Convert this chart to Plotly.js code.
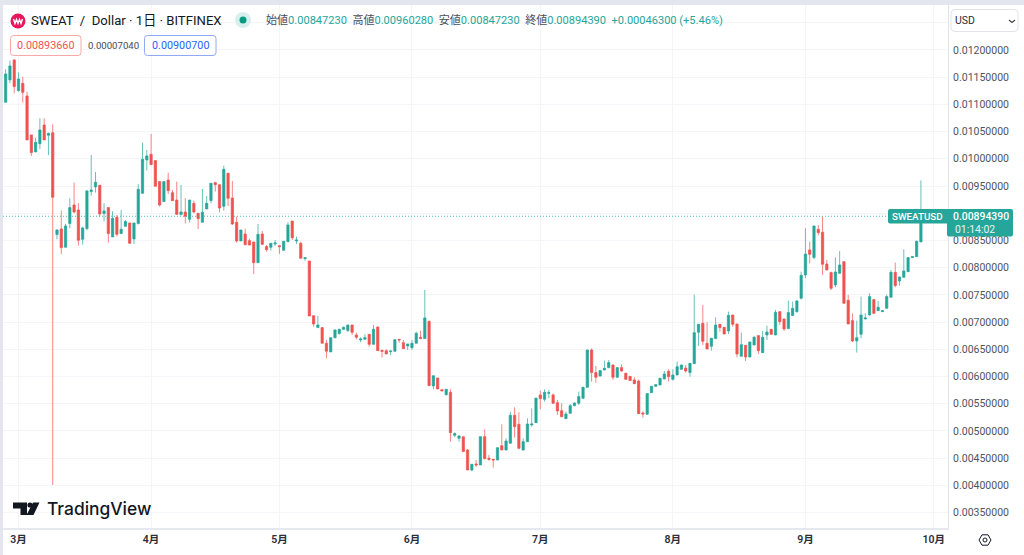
<!DOCTYPE html>
<html><head><meta charset="utf-8">
<script src="https://cdn.plot.ly/plotly-3.0.1.min.js"></script>
<style>html,body{margin:0;padding:0;background:#fff;overflow:hidden}#c{width:1024px;height:555px}</style>
</head><body><div id="c"></div>
<script>
const symbol = "SWEAT  /  Dollar · 1日 · BITFINEX";
const firstDay = [2023, 1, 26];
const opens = [
.011039,.011450,.011817,.011253,.011388,.011155,.010439,.010126,.010279,.010622,
.010432,.010481,.008607,.008711,.008374,.008809,.009152,.009060,.008521,.008717,
.009397,.009483,.009513,.008993,.009103,.008564,.008925,.008625,.008760,.008821,
.008527,.008809,.009366,.009979,.010083,.009967,.009581,.009213,.009611,.009378,
.009243,.008974,.009023,.008888,.009182,.008998,.008833,.009078,.009231,.009562,
.009525,.009127,.009733,.009280,.008833,.008490,.008618,.008496,.008471,.008091,
.008618,.008386,.008373,.008435,.008404,.008318,.008477,.008857,.008490,.008447,
.008165,.008122,.007117,.006897,.006897,.006609,.006450,.006713,.006787,.006866,
.006842,.006946,.006762,.006670,.006682,.006774,.006590,.006909,.006480,.006474,
.006456,.006462,.006682,.006621,.006560,.006529,.006609,.006720,.006695,.007013,
.005825,.005972,.005757,.005665,.005708,.004918,.004863,.004893,.004648,.004280,
.004391,.004373,.004893,.004495,.004477,.004464,.004728,.004648,.004771,.005286,
.005120,.004648,.004801,.005108,.005150,.005659,.005579,.005690,.005659,.005518,
.005371,.005224,.005322,.005463,.005506,.005598,.005800,.006486,.006070,.006008,
.006119,.006162,.006210,.005984,.006162,.006057,.006002,.005935,.005916,.005328,
.005304,.005702,.005819,.005843,.005953,.006094,.005947,.006027,.006131,.006155,
.006070,.006235,.006811,.006976,.006609,.006554,.006695,.006958,.006903,.006836,
.007130,.006964,.006370,.006572,.006358,.006578,.006750,.006437,.006762,.006866,
.006762,.007191,.007056,.006879,.007118,.007191,.007436,.007865,.008325,.008184,
.008704,.008649,.008067,.007908,.007681,.007896,.008110,.007400,.007026,.006652,
.006774,.007056,.007130,.007412,.007209,.007191,.007252,.007455,.007914,.007755,
.007822,.007926,.008184,.008202,.0084723];
const highs = [
.011646,.011805,.011830,.011590,.011510,.011235,.010439,.010390,.010745,.010745,
.010481,.010635,.008705,.009048,.008803,.009274,.009562,.009183,.008754,.009428,
.010071,.009758,.009519,.009183,.009115,.009036,.008968,.009060,.008876,.008821,
.008821,.009532,.010298,.010163,.010457,.009967,.009581,.009581,.009746,.009427,
.009580,.009519,.009274,.009243,.009231,.008998,.009446,.009317,.009550,.009580,
.009525,.009874,.009746,.009593,.008937,.008692,.008716,.008533,.008471,.008802,
.008673,.008416,.008447,.008508,.008404,.008484,.008833,.008857,.008570,.008477,
.008183,.008122,.007117,.007111,.006897,.006670,.006713,.006866,.006878,.006915,
.006946,.006946,.006805,.006719,.006774,.006774,.006946,.006915,.006485,.006499,
.006474,.006682,.006682,.006670,.006600,.006670,.006823,.006842,.007589,.007025,
.006014,.005972,.005757,.005763,.005763,.004973,.004918,.004893,.004667,.004385,
.004464,.004893,.005028,.004556,.004477,.004691,.005120,.004863,.005353,.005433,
.005341,.004863,.005230,.005414,.005616,.005739,.005763,.005751,.005690,.005567,
.005506,.005353,.005494,.005524,.005720,.005810,.006490,.006517,.006192,.006110,
.006290,.006303,.006220,.006170,.006223,.006070,.006005,.005984,.005941,.005359,
.005684,.005820,.005855,.005970,.006100,.006131,.006131,.006272,.006215,.006210,
.006245,.007503,.006960,.007313,.006995,.006705,.007087,.006960,.006905,.007191,
.007130,.006964,.006805,.006575,.006635,.006744,.006750,.006836,.006934,.006870,
.007222,.007195,.007060,.007393,.007375,.007406,.007926,.008723,.008478,.008770,
.008784,.008937,.008141,.007926,.008190,.008306,.008115,.007497,.007160,.007026,
.007467,.007160,.007528,.007420,.007387,.007215,.007504,.007957,.008092,.007835,
.008337,.008190,.008205,.008496,.0096028];
const lows = [
.011040,.011388,.011204,.011235,.011033,.010347,.010053,.010126,.010180,.010347,
.010071,.004005,.008521,.008251,.008374,.008723,.008999,.008404,.008423,.008686,
.009323,.009379,.008938,.008846,.008459,.008564,.008570,.008625,.008754,.008447,
.008435,.008796,.009366,.009783,.009893,.009495,.009121,.009213,.009354,.009231,
.008968,.008961,.008814,.008827,.008998,.008710,.008833,.009078,.009182,.009397,
.009017,.009047,.009133,.008784,.008459,.008490,.008410,.008410,.007883,.008091,
.008416,.008294,.008312,.008398,.008251,.008312,.008477,.008508,.008435,.008171,
.008128,.007111,.006915,.006897,.006609,.006333,.006450,.006700,.006770,.006860,
.006820,.006762,.006682,.006627,.006680,.006548,.006590,.006474,.006345,.006410,
.006394,.006460,.006621,.006510,.006486,.006486,.006609,.006690,.006695,.005831,
.005763,.005769,.005730,.005647,.004801,.004881,.004801,.004618,.004280,.004256,
.004342,.004373,.004477,.004452,.004324,.004464,.004648,.004640,.004770,.004875,
.004660,.004640,.004800,.005077,.005150,.005396,.005537,.005598,.005500,.005292,
.005249,.005220,.005320,.005450,.005475,.005590,.005800,.005904,.005886,.006000,
.006110,.006150,.005935,.005980,.006090,.005940,.005920,.005860,.005310,.005243,
.005300,.005700,.005810,.005840,.005950,.005904,.005923,.006020,.006120,.006070,
.005996,.006230,.006560,.006578,.006500,.006474,.006690,.006823,.006775,.006780,
.006915,.006352,.006370,.006284,.006350,.006570,.006413,.006430,.006670,.006770,
.006760,.006946,.006836,.006870,.007110,.007173,.007418,.007804,.008079,.008153,
.008594,.007865,.007950,.007589,.007638,.007890,.007340,.006960,.006633,.006438,
.006701,.007050,.007120,.007150,.007200,.007185,.007250,.007450,.007638,.007669,
.007820,.007920,.008180,.008200,.0084723];
const closes = [
.011560,.011707,.011327,.011468,.011223,.010347,.010114,.010304,.010530,.010347,
.010469,.009293,.008692,.008368,.008766,.009103,.009023,.008502,.008729,.009409,
.009428,.009569,.008987,.009042,.008625,.008907,.008613,.008705,.008846,.008447,
.008821,.009440,.009991,.010053,.009893,.009495,.009152,.009581,.009415,.009231,
.008980,.009023,.008943,.009243,.009023,.008900,.009017,.009182,.009550,.009525,
.009096,.009807,.009274,.008802,.008490,.008692,.008422,.008416,.008091,.008612,
.008428,.008330,.008447,.008453,.008386,.008484,.008784,.008551,.008508,.008171,
.008183,.007111,.006964,.006946,.006609,.006462,.006713,.006854,.006866,.006903,
.006946,.006811,.006719,.006688,.006713,.006590,.006866,.006474,.006462,.006413,
.006468,.006676,.006670,.006511,.006597,.006609,.006793,.006695,.007075,.005831,
.006014,.005769,.005733,.005763,.004967,.004949,.004906,.004618,.004280,.004385,
.004373,.004893,.004489,.004477,.004464,.004691,.004648,.004814,.005286,.005077,
.004679,.004801,.005126,.005126,.005598,.005592,.005708,.005702,.005506,.005365,
.005261,.005310,.005463,.005512,.005629,.005800,.006486,.006070,.005984,.006107,
.006149,.006254,.005984,.006162,.006100,.005947,.005923,.005867,.005316,.005310,
.005684,.005819,.005849,.005966,.006045,.005996,.006027,.006180,.006210,.006100,
.006241,.006805,.006958,.006646,.006505,.006701,.006946,.006897,.006780,.007123,
.006958,.006413,.006584,.006358,.006633,.006720,.006474,.006720,.006817,.006774,
.007179,.007007,.006872,.007173,.007252,.007387,.007859,.008251,.008245,.008766,
.008643,.008061,.007957,.007620,.007920,.008049,.007344,.006964,.006652,.006713,
.007130,.007075,.007467,.007160,.007270,.007209,.007467,.007914,.007669,.007828,
.007939,.008184,.008202,.008484,.0089439];
const monthDates = ["2023-03-01","2023-04-01","2023-05-01","2023-06-01","2023-07-01","2023-08-01","2023-09-01","2023-10-01"];
const monthLabels = ["3月","4月","5月","6月","7月","8月","9月","10月"];
const priceTicks = [0.0035,0.004,0.0045,0.005,0.0055,0.006,0.0065,0.007,0.0075,0.008,0.0085,0.009,0.0095,0.01,0.0105,0.011,0.0115,0.012,0.0125];
const priceLabels = ["0.00350000","0.00400000","0.00450000","0.00500000","0.00550000","0.00600000","0.00650000","0.00700000","0.00750000","0.00800000","0.00850000","","0.00950000","0.01000000","0.01050000","0.01100000","0.01150000","0.01200000",""];

const dates = opens.map((_, i) => new Date(Date.UTC(firstDay[0], firstDay[1], firstDay[2] + i)).toISOString().slice(0, 10));

const W = 1024, H = 555, L = 3, R = 948, T = 5, B = 528;
const px = x => (x - L) / (R - L), py = y => (B - y) / (B - T);
const UP = '#26a69a', DOWN = '#ef5350', INK = '#131722';

function rrect(x0, y0, x1, y1, r, line, fill, w) {
  const c = (x, y) => px(x) + ',' + py(y);
  return { type: 'path', xref: 'paper', yref: 'paper', layer: 'above',
    path: 'M' + c(x0 + r, y0) + ' L' + c(x1 - r, y0) + ' Q' + c(x1, y0) + ' ' + c(x1, y0 + r) +
      ' L' + c(x1, y1 - r) + ' Q' + c(x1, y1) + ' ' + c(x1 - r, y1) + ' L' + c(x0 + r, y1) +
      ' Q' + c(x0, y1) + ' ' + c(x0, y1 - r) + ' L' + c(x0, y0 + r) + ' Q' + c(x0, y0) + ' ' + c(x0 + r, y0) + ' Z',
    line: { color: line, width: w === undefined ? 1 : w }, fillcolor: fill };
}
function poly(pts, line, fill, w, close) {
  return { type: 'path', xref: 'paper', yref: 'paper', layer: 'above',
    path: pts.map((p, i) => (i ? 'L' : 'M') + px(p[0]) + ',' + py(p[1])).join(' ') + (close ? ' Z' : ''),
    line: { color: line, width: w }, fillcolor: fill };
}
function circ(cx, cy, r, line, fill, w) {
  return { type: 'circle', xref: 'paper', yref: 'paper', layer: 'above',
    x0: px(cx - r), x1: px(cx + r), y0: py(cy + r), y1: py(cy - r),
    line: { color: line, width: w }, fillcolor: fill };
}
function txt(x, y, text, size, color, anchor, extra) {
  return Object.assign({ xref: 'paper', yref: 'paper', x: px(x), y: py(y), text: text, showarrow: false,
    xanchor: anchor || 'left', yanchor: 'middle', borderpad: 0,
    font: Object.assign({ family: 'Roboto, "Noto Sans CJK JP", sans-serif', size: size, color: color }, extra || {}) });
}
const v = s => '<span style="color:#26a69a">' + s + '</span>';
const lastClose = closes[closes.length - 1];

const shapes = [
  { type: 'rect', xref: 'paper', yref: 'paper', layer: 'above', x0: px(0), x1: px(W), y0: py(5), y1: py(0), line: { width: 0 }, fillcolor: '#e3e6ee' },
  { type: 'rect', xref: 'paper', yref: 'paper', layer: 'above', x0: px(0), x1: px(3), y0: py(H), y1: py(0), line: { width: 0 }, fillcolor: '#e3e6ee' },
  { type: 'line', xref: 'paper', yref: 'y', layer: 'above', x0: 0, x1: 1, y0: lastClose, y1: lastClose, line: { color: 'rgba(38,166,154,0.8)', width: 1, dash: '1px,2px' } },
  circ(18, 21, 7.5, '#e8175d', '#e8175d', 0),
  poly([[13.5,19],[15,23.5],[16.5,19.5],[18,23.5],[19.5,19.5],[21,23.5],[22.5,19]], '#fff', 'rgba(0,0,0,0)', 1.4),
  circ(243, 20, 8, '#d8f0ed', '#d8f0ed', 0),
  circ(243, 20, 3.5, '#089981', '#089981', 0),
  rrect(10.5, 35.5, 81, 55.5, 3, '#f7a9a7', '#fff'),
  rrect(144.5, 35.5, 216, 55.5, 3, '#90a9f5', '#fff'),
  rrect(951, 9.5, 1018, 31.5, 4, '#e0e3eb', '#fff'),
  poly([[1009,20],[1012,22.5],[1015,20]], '#444', 'rgba(0,0,0,0)', 1.2),
  rrect(888, 209, 950, 223.5, 2, UP, UP, 0),
  rrect(947, 209, 1013, 236.5, 2, UP, UP, 0),
  poly([[13,502.5],[27,502.5],[27,515],[20.5,515],[20.5,508.5],[13,508.5]], INK, INK, 0, true),
  circ(30, 505, 2.6, INK, INK, 0),
  poly([[33,502.5],[39.5,502.5],[33.5,515],[26.5,515]], INK, INK, 0, true),
  poly([[979,540],[982,534.8],[988,534.8],[991,540],[988,545.2],[982,545.2]], INK, 'rgba(0,0,0,0)', 1, true),
  circ(985, 540, 2, INK, 'rgba(0,0,0,0)', 1)
];

const annotations = [
  txt(29.5, 21, symbol, 13.15, INK),
  txt(265, 20, '始値' + v('0.00847230') + '  高値' + v('0.00960280') + '  安値' + v('0.00847230') + '  終値' + v('0.00894390') + '  ' + v('+0.00046300 (+5.46%)'), 11.05, '#4a4e5a'),
  txt(45.7, 46, '0.00893660', 10.8, '#ef5350', 'center'),
  txt(113, 46, '0.00007040', 9.6, '#444854', 'center'),
  txt(180.3, 46, '0.00900700', 10.8, '#2962ff', 'center'),
  txt(954, 21, 'USD', 10.5, '#2a2e39'),
  txt(917.5, 216.5, 'SWEATUSD', 9.8, '#fff', 'center', { weight: 500 }),
  txt(981, 216.5, '0.00894390', 10.4, '#fff', 'center', { weight: 500 }),
  txt(954, 229.5, '01:14:02', 10.4, '#e6f5f3', 'left'),
  txt(46.3, 508.5, 'TradingView', 17.4, INK, 'left', { family: 'Inter, Roboto, sans-serif', weight: 500 })
];

const trace = {
  type: 'candlestick', x: dates, open: opens, high: highs, low: lows, close: closes,
  increasing: { line: { color: 'rgba(38,166,154,0.7)', width: 1 }, fillcolor: UP },
  decreasing: { line: { color: 'rgba(239,83,80,0.7)', width: 1 }, fillcolor: DOWN },
  whiskerwidth: 0, hoverinfo: 'skip', showlegend: false
};

Plotly.newPlot('c', [trace], {
  width: W, height: H, paper_bgcolor: '#fff', plot_bgcolor: '#fff', showlegend: false,
  margin: { l: L, r: W - R, t: T, b: H - B, pad: 0 },
  boxgap: 0.24,
  xaxis: {
    type: 'date', range: ['2023-02-25 09:00', '2023-10-04 08:00'], rangeslider: { visible: false },
    tickmode: 'array', tickvals: monthDates, ticktext: monthLabels, ticks: '',
    tickfont: { family: 'Roboto, "Noto Sans CJK JP", sans-serif', size: 10.5, color: '#2a2e39', weight: 600 },
    showgrid: true, gridcolor: '#f4f5f9', gridwidth: 1, zeroline: false,
    showline: true, linecolor: '#e6e8ef', linewidth: 2
  },
  yaxis: {
    side: 'right', range: [0.003214, 0.012827], tickmode: 'array', tickvals: priceTicks, ticktext: priceLabels, ticks: '',
    tickfont: { family: 'Roboto, sans-serif', size: 10.5, color: '#50535e' }, ticklabelstandoff: 2,
    showgrid: true, gridcolor: '#f4f5f9', gridwidth: 1, zeroline: false,
    showline: true, linecolor: '#e0e3eb', linewidth: 1
  },
  shapes: shapes, annotations: annotations
}, { displayModeBar: false, staticPlot: true });
</script></body></html>
